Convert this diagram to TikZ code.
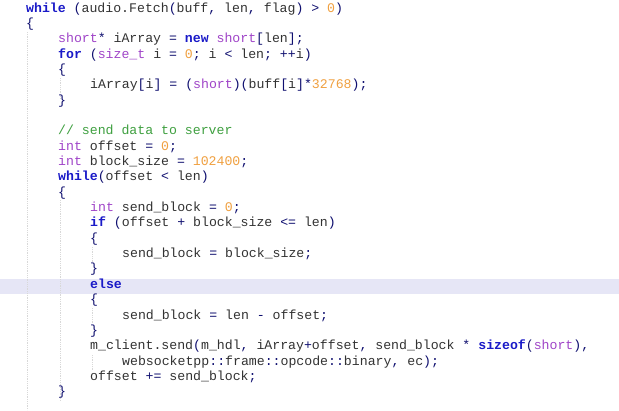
\documentclass[tikz,border=0pt]{standalone}
\usepackage{fontspec}
\setmonofont{Liberation Mono}
\definecolor{kwc}{HTML}{1A1AC8}
\definecolor{tyc}{HTML}{A045C8}
\definecolor{nuc}{HTML}{F0A040}
\definecolor{cmc}{HTML}{3FA040}
\definecolor{opc}{HTML}{101070}
\definecolor{idc}{HTML}{333333}
\definecolor{hlc}{HTML}{E6E6F6}
\definecolor{gdc}{HTML}{D8D8D8}
\newcommand\Kw[1]{\textcolor{kwc}{\bfseries #1}}
\newcommand\Ty[1]{\textcolor{tyc}{#1}}
\newcommand\Nu[1]{\textcolor{nuc}{#1}}
\newcommand\Cm[1]{\textcolor{cmc}{#1}}
\newcommand\Op[1]{\textcolor{opc}{#1}}
\begin{document}
\begin{tikzpicture}[x=1pt,y=-1pt,
  code/.style={anchor=base west,inner sep=0pt,text=idc,font=\ttfamily\fontsize{13.2}{15}\selectfont},
  guide/.style={gdc,densely dotted,line width=0.8pt}]
\useasboundingbox (0,0) rectangle (619,410);
\fill[white] (0,0) rectangle (619,410);
\fill[hlc] (0,279) rectangle (619,294);
\draw[guide] (27,32) -- (27,410);
\draw[guide] (60,78) -- (60,98);
\draw[guide] (60,200) -- (60,400);
\draw[guide] (92,247) -- (92,262);
\draw[guide] (92,308) -- (92,324);
\draw[guide] (92,355) -- (92,370);
\def\Y#1{\fpeval{12+15.35*#1}}
\node[code] (l1) at (26,\Y{0}) {\Kw{while} \Op{(}audio.Fetch\Op{(}buff\Op{,} len\Op{,} flag\Op{)} \Op{>} \Nu{0}\Op{)}};
\node[code] (l2) at (26,\Y{1}) {\Op{\{}};
\node[code] (l3) at (58,\Y{2}) {\Ty{short}\Op{*} iArray \Op{=} \Kw{new} \Ty{short}\Op{[}len\Op{];}};
\node[code] (l4) at (58,\Y{3}) {\Kw{for} \Op{(}\Ty{size\_t} i \Op{=} \Nu{0}\Op{;} i \Op{<} len\Op{;} \Op{++}i\Op{)}};
\node[code] (l5) at (58,\Y{4}) {\Op{\{}};
\node[code] (l6) at (90,\Y{5}) {iArray\Op{[}i\Op{]} \Op{=} \Op{(}\Ty{short}\Op{)(}buff\Op{[}i\Op{]*}\Nu{32768}\Op{);}};
\node[code] (l7) at (58,\Y{6}) {\Op{\}}};
\node[code] (l9) at (58,\Y{8}) {\Cm{// send data to server}};
\node[code] (l10) at (58,\Y{9}) {\Ty{int} offset \Op{=} \Nu{0}\Op{;}};
\node[code] (l11) at (58,\Y{10}) {\Ty{int} block\_size \Op{=} \Nu{102400}\Op{;}};
\node[code] (l12) at (58,\Y{11}) {\Kw{while}\Op{(}offset \Op{<} len\Op{)}};
\node[code] (l13) at (58,\Y{12}) {\Op{\{}};
\node[code] (l14) at (90,\Y{13}) {\Ty{int} send\_block \Op{=} \Nu{0}\Op{;}};
\node[code] (l15) at (90,\Y{14}) {\Kw{if} \Op{(}offset \Op{+} block\_size \Op{<=} len\Op{)}};
\node[code] (l16) at (90,\Y{15}) {\Op{\{}};
\node[code] (l17) at (122,\Y{16}) {send\_block \Op{=} block\_size\Op{;}};
\node[code] (l18) at (90,\Y{17}) {\Op{\}}};
\node[code] (l19) at (90,\Y{18}) {\Kw{else}};
\node[code] (l20) at (90,\Y{19}) {\Op{\{}};
\node[code] (l21) at (122,\Y{20}) {send\_block \Op{=} len \Op{-} offset\Op{;}};
\node[code] (l22) at (90,\Y{21}) {\Op{\}}};
\node[code] (l23) at (90,\Y{22}) {m\_client.send\Op{(}m\_hdl\Op{,} iArray\Op{+}offset\Op{,} send\_block \Op{*} \Kw{sizeof}\Op{(}\Ty{short}\Op{),}};
\node[code] (l24) at (122,\Y{23}) {websocketpp\Op{::}frame\Op{::}opcode\Op{::}binary\Op{,} ec\Op{);}};
\node[code] (l25) at (90,\Y{24}) {offset \Op{+=} send\_block\Op{;}};
\node[code] (l26) at (58,\Y{25}) {\Op{\}}};
\end{tikzpicture}
\end{document}
